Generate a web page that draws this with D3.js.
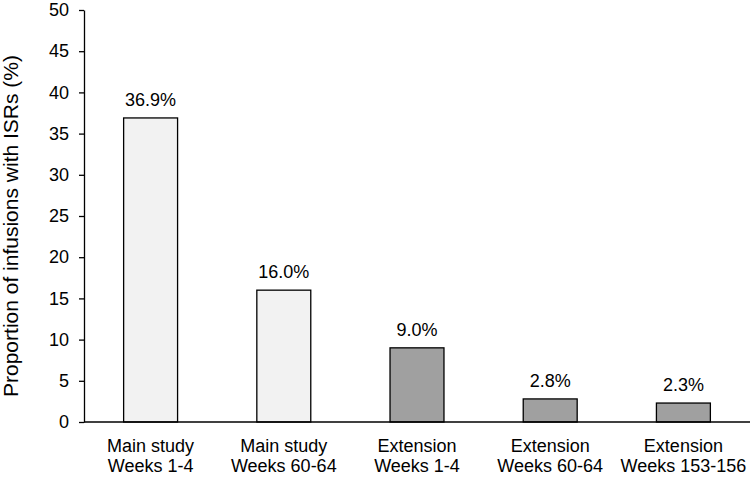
<!DOCTYPE html>
<html>
<head>
<meta charset="utf-8">
<script src="https://cdn.jsdelivr.net/npm/d3@7"></script>
<style>
  body { margin: 0; background: #fff; }
  text { font-family: "Liberation Sans", Arial, sans-serif; fill: #000; }
</style>
</head>
<body>
<div id="chart"></div>
<script>
// data
var categories = [
    ["Main study", "Weeks 1-4"],
    ["Main study", "Weeks 60-64"],
    ["Extension", "Weeks 1-4"],
    ["Extension", "Weeks 60-64"],
    ["Extension", "Weeks 153-156"]
];
var values = [36.9, 16.0, 9.0, 2.8, 2.3];
var phases = ["main", "main", "ext", "ext", "ext"];
var yTicks = [0, 5, 10, 15, 20, 25, 30, 35, 40, 45, 50];

var width = 750, height = 477;
var margin = {top: 10, right: 0, bottom: 55, left: 84};
var fills = {main: "#f2f2f2", ext: "#a0a0a0"};

var svg = d3.select("#chart")
    .append("svg")
    .attr("width", width)
    .attr("height", height);

var x = d3.scaleBand()
    .domain(d3.range(values.length))
    .range([margin.left, width - margin.right])
    .paddingInner(0.595)
    .paddingOuter(0.2975);

var y = d3.scaleLinear()
    .domain([0, 50])
    .range([height - margin.bottom, margin.top]);

// Y axis
var yAxis = svg.append("g")
    .attr("transform", "translate(" + margin.left + ",0)")
    .call(d3.axisLeft(y).tickValues(yTicks).tickSize(5).tickPadding(10).tickSizeOuter(0));
yAxis.selectAll("text").style("font-size", "18px");
yAxis.selectAll("line, path").attr("stroke", "#000").attr("stroke-width", 1.3);

// Bars
svg.selectAll("rect.bar")
    .data(values)
    .enter()
    .append("rect")
    .attr("class", "bar")
    .attr("x", function(d, i) { return x(i); })
    .attr("width", x.bandwidth())
    .attr("y", function(d) { return y(d); })
    .attr("height", function(d) { return y(0) - y(d); })
    .attr("fill", function(d, i) { return fills[phases[i]]; })
    .attr("stroke", "#000")
    .attr("stroke-width", 1.3);

// Value labels
svg.selectAll("text.val")
    .data(values)
    .enter()
    .append("text")
    .attr("class", "val")
    .attr("x", function(d, i) { return x(i) + x.bandwidth() / 2; })
    .attr("y", function(d) { return y(d) - 12; })
    .attr("text-anchor", "middle")
    .style("font-size", "18px")
    .text(function(d) { return d.toFixed(1) + "%"; });

// X axis line (no ticks)
svg.append("line")
    .attr("x1", margin.left)
    .attr("x2", width)
    .attr("y1", y(0))
    .attr("y2", y(0))
    .attr("stroke", "#000")
    .attr("stroke-width", 1.3);

// Category labels, two lines each
var catLabels = svg.selectAll("text.cat")
    .data(categories)
    .enter()
    .append("text")
    .attr("class", "cat")
    .attr("text-anchor", "middle")
    .style("font-size", "18px");
catLabels.selectAll("tspan")
    .data(function(d, i) { return d.map(function(s, j) { return {s: s, i: i, j: j}; }); })
    .enter()
    .append("tspan")
    .attr("x", function(d) { return x(d.i) + x.bandwidth() / 2; })
    .attr("y", function(d) { return y(0) + 30 + d.j * 20; })
    .text(function(d) { return d.s; });

// Y axis title
svg.append("text")
    .attr("transform", "translate(18," + 226 + ") rotate(-90)")
    .attr("text-anchor", "middle")
    .style("font-size", "21px")
    .text("Proportion of infusions with ISRs (%)");
</script>
</body>
</html>
